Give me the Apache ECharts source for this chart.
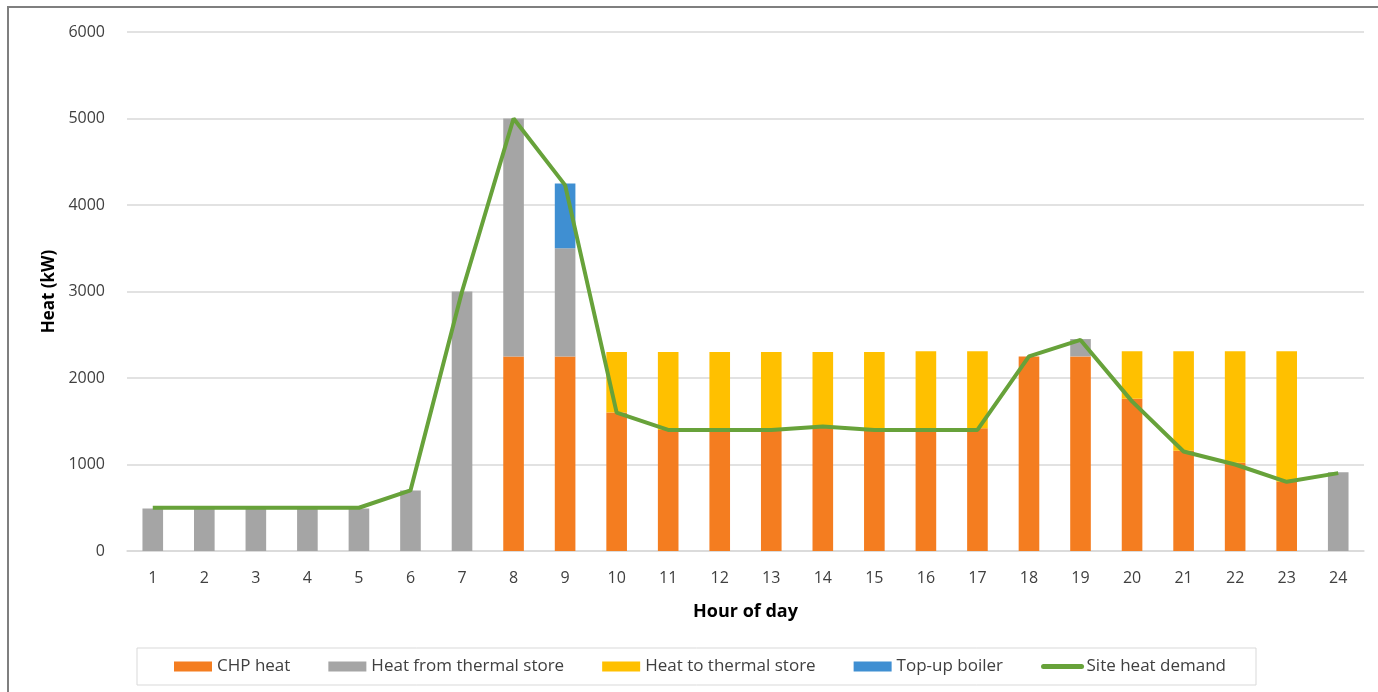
<!DOCTYPE html>
<html>
<head>
<meta charset="utf-8">
<script src="https://cdn.jsdelivr.net/npm/echarts@6/dist/echarts.min.js"></script>
<style>html,body{margin:0;padding:0;background:#fff}#c{width:1378px;height:692px}</style>
</head>
<body>
<div id="c"></div>
<script>
const hours = ['1','2','3','4','5','6','7','8','9','10','11','12','13','14','15','16','17','18','19','20','21','22','23','24'];
const chpHeat      = [0,0,0,0,0,0,0,2250,2250,1600,1400,1400,1400,1440,1400,1400,1420,2250,2250,1760,1160,1020,800,0];
const fromStore    = [490,490,490,490,490,700,3000,2750,1250,0,0,0,0,0,0,0,0,0,200,0,0,0,0,910];
const toStore      = [0,0,0,0,0,0,0,0,0,700,900,900,900,860,900,910,890,0,0,550,1150,1290,1510,0];
const topUpBoiler  = [0,0,0,0,0,0,0,0,750,0,0,0,0,0,0,0,0,0,0,0,0,0,0,0];
const siteDemand   = [500,500,500,500,500,700,3000,5000,4230,1600,1400,1400,1400,1440,1400,1400,1400,2250,2440,1730,1150,1000,800,900];
const yTicks = [0,1000,2000,3000,4000,5000,6000];

const font = 'Open Sans';
const chart = echarts.init(document.getElementById('c'), null, {renderer:'canvas'});
const barBase = {type:'bar', stack:'heat', barWidth:'40%', emphasis:{disabled:true}};
chart.setOption({
  animation:false,
  textStyle:{fontFamily:font},
  graphic:[{type:'rect', shape:{x:8,y:7,width:1400,height:720}, style:{fill:'none', stroke:'#7f7f7f', lineWidth:2}, silent:true}],
  grid:{left:127, right:14, top:32, bottom:141},
  legend:{
    left:137, top:648, padding:[10,30,10,37], itemGap:38, itemWidth:38, itemHeight:10,
    borderColor:'#d9d9d9', borderWidth:1,
    textStyle:{fontFamily:font, fontSize:17, color:'#404040'},
    data:[{name:'CHP heat',icon:'rect'},{name:'Heat from thermal store',icon:'rect'},{name:'Heat to thermal store',icon:'rect'},{name:'Top-up boiler',icon:'rect'},
          {name:'Site heat demand', itemStyle:{opacity:0}, lineStyle:{width:5, cap:'round'}}]
  },
  xAxis:{
    type:'category', data:hours,
    name:'Hour of day', nameLocation:'middle', nameGap:52,
    nameTextStyle:{fontFamily:font, fontSize:18, fontWeight:'bold', color:'#000'},
    axisLine:{lineStyle:{color:'#d9d9d9', width:1.5}}, axisTick:{show:false},
    axisLabel:{fontFamily:font, fontSize:16, color:'#404040', margin:19}
  },
  yAxis:{
    type:'value', min:yTicks[0], max:yTicks[yTicks.length-1], interval:1000,
    name:'Heat (kW)', nameLocation:'middle', nameGap:62, nameRotate:90,
    nameTextStyle:{fontFamily:font, fontSize:17, fontWeight:'bold', color:'#000'},
    axisLine:{show:false}, axisTick:{show:false},
    axisLabel:{fontFamily:font, fontSize:16, color:'#404040', margin:22, formatter:v=>String(v)},
    splitLine:{lineStyle:{color:'#d9d9d9', width:1.5}}
  },
  series:[
    Object.assign({name:'CHP heat', data:chpHeat, itemStyle:{color:'#F47D20'}}, barBase),
    Object.assign({name:'Heat from thermal store', data:fromStore, itemStyle:{color:'#A5A5A5'}}, barBase),
    Object.assign({name:'Heat to thermal store', data:toStore, itemStyle:{color:'#FFC000'}}, barBase),
    Object.assign({name:'Top-up boiler', data:topUpBoiler, itemStyle:{color:'#3F8FD2'}}, barBase),
    {name:'Site heat demand', type:'line', data:siteDemand, symbol:'none', showSymbol:false,
     lineStyle:{color:'#67A23A', width:4}, itemStyle:{color:'#67A23A'}, emphasis:{disabled:true}, z:5}
  ]
});
</script>
</body>
</html>
